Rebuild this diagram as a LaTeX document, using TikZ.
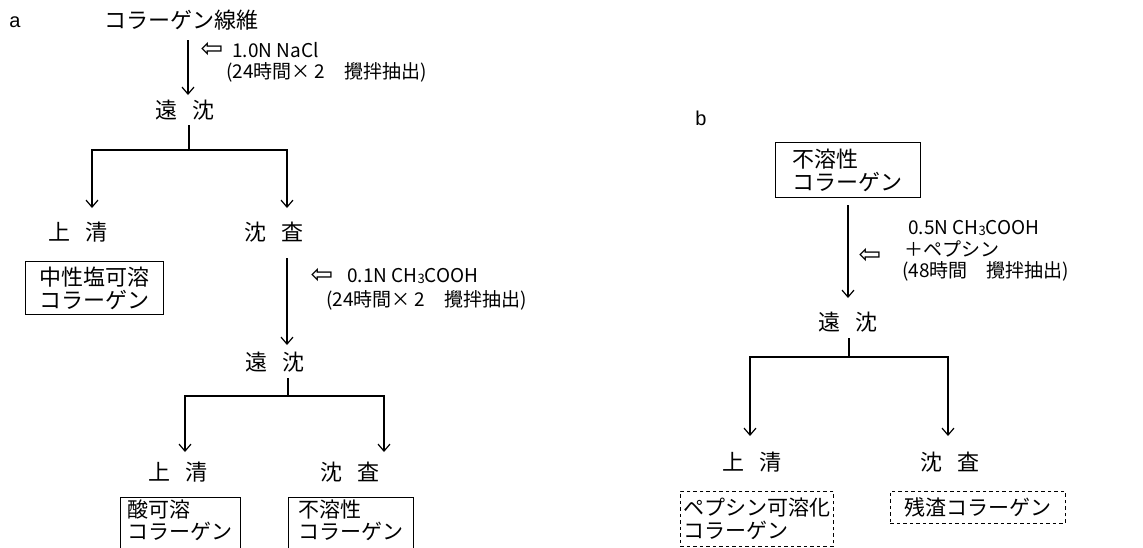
\documentclass[tikz,border=0pt]{standalone}
\usepackage{fontspec}
\setmainfont{Noto Sans CJK JP}
\newfontfamily\labfont{Liberation Sans}
\newfontfamily\symfont{DejaVu Sans}
\usetikzlibrary{arrows.meta}
\newcommand{\sub}[1]{{\fontsize{13}{13}\selectfont\raisebox{-1.5pt}{#1}}}
\newcommand{\lar}{{\symfont\fontsize{27}{27}\selectfont ⇦}}
\begin{document}
\begin{tikzpicture}[x=1pt,y=-1pt,
  jp/.style={font=\fontsize{22}{24}\selectfont, inner sep=0pt},
  ann/.style={font=\fontsize{19}{22}\selectfont, inner sep=0pt, anchor=west},
  lbl/.style={font=\labfont\fontsize{20}{24}\selectfont, inner sep=0pt},
  sym/.style={inner sep=0pt},
  box/.style={draw, line width=0.9pt, font=\fontsize{22}{23}\selectfont, align=left, inner xsep=3pt, inner ysep=3pt, anchor=north west},
  cutbox/.style={box, draw=none, font=\fontsize{21}{22}\selectfont, inner ysep=2pt},
  frame/.style={line width=0.9pt},
  dbox/.style={box, font=\fontsize{21}{23}\selectfont, dash pattern=on 3.5pt off 3pt},
  ln/.style={line width=1.2pt},
  arr/.style={line width=1.2pt, -{Straight Barb[length=7pt,width=12pt,line width=1.2pt]}}]
\path[use as bounding box, clip] (0,0) rectangle (1143,547);
\fill[white] (0,0) rectangle (1143,547);

% ---------- panel a ----------
\node[lbl] (la) at (15,22) {a};
\node[jp, anchor=west] (t) at (104,20) {コラーゲン線維};
\node[jp] (e1) at (185,110) {遠\hspace{0.7em}沈};
\coordinate (a1s) at (188,40);
\coordinate (a1e) at (188,95);
\draw[arr] (a1s) -- (a1e);
\node[sym] (ar1) at (212,50) {\lar};
\node[ann] (n1) at (232,50) {1.0N NaCl};
\node[ann] (n1b) at (226,72) {(24時間× 2　攪拌抽出)};

\coordinate (j1t) at (189,125);
\coordinate (j1) at (189,150);
\coordinate (l1) at (92,150);
\coordinate (r1) at (287,150);
\coordinate (l1e) at (92,208);
\coordinate (r1e) at (287,208);
\draw[ln] (j1t) -- (j1);
\draw[arr] (j1) -- (l1) -- (l1e);
\draw[arr] (j1) -- (r1) -- (r1e);

\node[jp] (u1) at (78,232) {上\hspace{0.7em}清};
\node[jp] (s1) at (274,232) {沈\hspace{0.7em}査};
\node[box, minimum width=138pt, minimum height=53pt] (b1) at (25,261) {中性塩可溶\\コラーゲン};

\coordinate (a2s) at (287,258);
\coordinate (a2e) at (287,345);
\draw[arr] (a2s) -- (a2e);
\node[sym] (ar2) at (322,276) {\lar};
\node[ann] (n2) at (347,276) {0.1N CH\sub{3}COOH};
\node[ann] (n2b) at (326,300) {(24時間× 2　攪拌抽出)};

\node[jp] (e2) at (275,362) {遠\hspace{0.7em}沈};
\coordinate (j2t) at (288,378);
\coordinate (j2) at (288,396);
\coordinate (l2) at (185,396);
\coordinate (r2) at (384,396);
\coordinate (l2e) at (185,452);
\coordinate (r2e) at (384,452);
\draw[ln] (j2t) -- (j2);
\draw[arr] (j2) -- (l2) -- (l2e);
\draw[arr] (j2) -- (r2) -- (r2e);

\node[jp] (u2) at (178,472) {上\hspace{0.7em}清};
\node[jp] (s2) at (350,472) {沈\hspace{0.7em}査};
\node[cutbox, minimum width=120pt] (b2) at (120,497) {酸可溶\hspace{2.4em}\\コラーゲン};
\node[cutbox, minimum width=125pt] (b3) at (288,497) {不溶性\hspace{2.4em}\\コラーゲン};
\draw[frame] (b2.north west) rectangle ([yshift=-15pt]b2.south east);
\draw[frame] (b3.north west) rectangle ([yshift=-15pt]b3.south east);

% ---------- panel b ----------
\node[lbl] (lb) at (701,118) {b};
\node[box, minimum width=145pt, minimum height=55pt] (b4) at (775,142) {不溶性\hspace{2.4em}\\コラーゲン};
\coordinate (a3s) at (848,205);
\coordinate (a3e) at (848,298);
\draw[arr] (a3s) -- (a3e);
\node[sym] (ar3) at (870,256) {\lar};
\node[ann] (n3) at (908,228) {0.5N CH\sub{3}COOH};
\node[ann] (n3b) at (904,249) {＋ペプシン};
\node[ann] (n3c) at (902,271) {(48時間　攪拌抽出)};

\node[jp] (e3) at (848,322) {遠\hspace{0.7em}沈};
\coordinate (j3t) at (849,338);
\coordinate (j3) at (849,357);
\coordinate (l3) at (750,357);
\coordinate (r3) at (948,357);
\coordinate (l3e) at (750,436);
\coordinate (r3e) at (948,436);
\draw[ln] (j3t) -- (j3);
\draw[arr] (j3) -- (l3) -- (l3e);
\draw[arr] (j3) -- (r3) -- (r3e);

\node[jp] (u3) at (752,462) {上\hspace{0.7em}清};
\node[jp] (s3) at (950,462) {沈\hspace{0.7em}査};
\node[dbox, minimum width=152pt, minimum height=55pt] (b5) at (680,491) {ペプシン可溶化\\コラーゲン\hspace{2em}};
\node[dbox, minimum width=175pt, minimum height=32pt] (b6) at (890,491) {残渣コラーゲン};
\end{tikzpicture}
\end{document}
